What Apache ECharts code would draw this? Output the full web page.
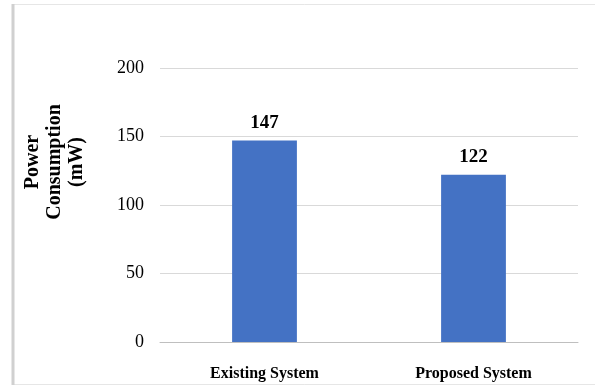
<!DOCTYPE html>
<html>
<head>
<meta charset="utf-8">
<script src="https://cdn.jsdelivr.net/npm/echarts@6/dist/echarts.min.js"></script>
<style>html,body{margin:0;padding:0;background:#fff}#c{width:595px;height:390px}</style>
</head>
<body>
<div id="c"></div>
<script>
const categories = ['Existing System', 'Proposed System'];
const powerValues = [147, 122];
const yTicks = [0, 50, 100, 150, 200];
const yTitle = 'Power\nConsumption\n(mW)';

const chart = echarts.init(document.getElementById('c'), null, {renderer: 'canvas'});
const serif = '"Liberation Serif", "Times New Roman", serif';
chart.setOption({
  backgroundColor: '#fff',
  animation: false,
  grid: {left: 160, right: 17, top: 68, bottom: 48},
  graphic: [
    {type: 'rect', shape: {x: 12.5, y: 4.5, width: 600, height: 380}, style: {fill: 'none', stroke: '#e6e6e6', lineWidth: 1}},
    {type: 'line', shape: {x1: 13, y1: 4, x2: 13, y2: 385}, style: {stroke: '#d0d0d0', lineWidth: 3}},
    {type: 'text', x: 55, y: 162, rotation: Math.PI / 2,
     style: {text: yTitle, font: 'bold 20px ' + serif, fill: '#000', align: 'center', verticalAlign: 'middle', lineHeight: 22}}
  ],
  xAxis: {
    type: 'category',
    data: categories,
    axisLine: {lineStyle: {color: '#bfbfbf', width: 1}},
    axisTick: {show: false},
    axisLabel: {color: '#000', fontFamily: serif, fontWeight: 'bold', fontSize: 16, margin: 24}
  },
  yAxis: {
    type: 'value',
    min: yTicks[0],
    max: yTicks[yTicks.length - 1],
    interval: 50,
    axisLine: {show: false},
    axisTick: {show: false},
    splitLine: {lineStyle: {color: '#d9d9d9', width: 1}},
    axisLabel: {color: '#000', fontFamily: serif, fontSize: 18, margin: 16}
  },
  series: [{
    type: 'bar',
    data: powerValues,
    barWidth: '31%',
    itemStyle: {color: '#4472C4'},
    label: {show: true, position: 'top', distance: 8, color: '#000', fontFamily: serif, fontWeight: 'bold', fontSize: 19}
  }]
});
</script>
</body>
</html>
